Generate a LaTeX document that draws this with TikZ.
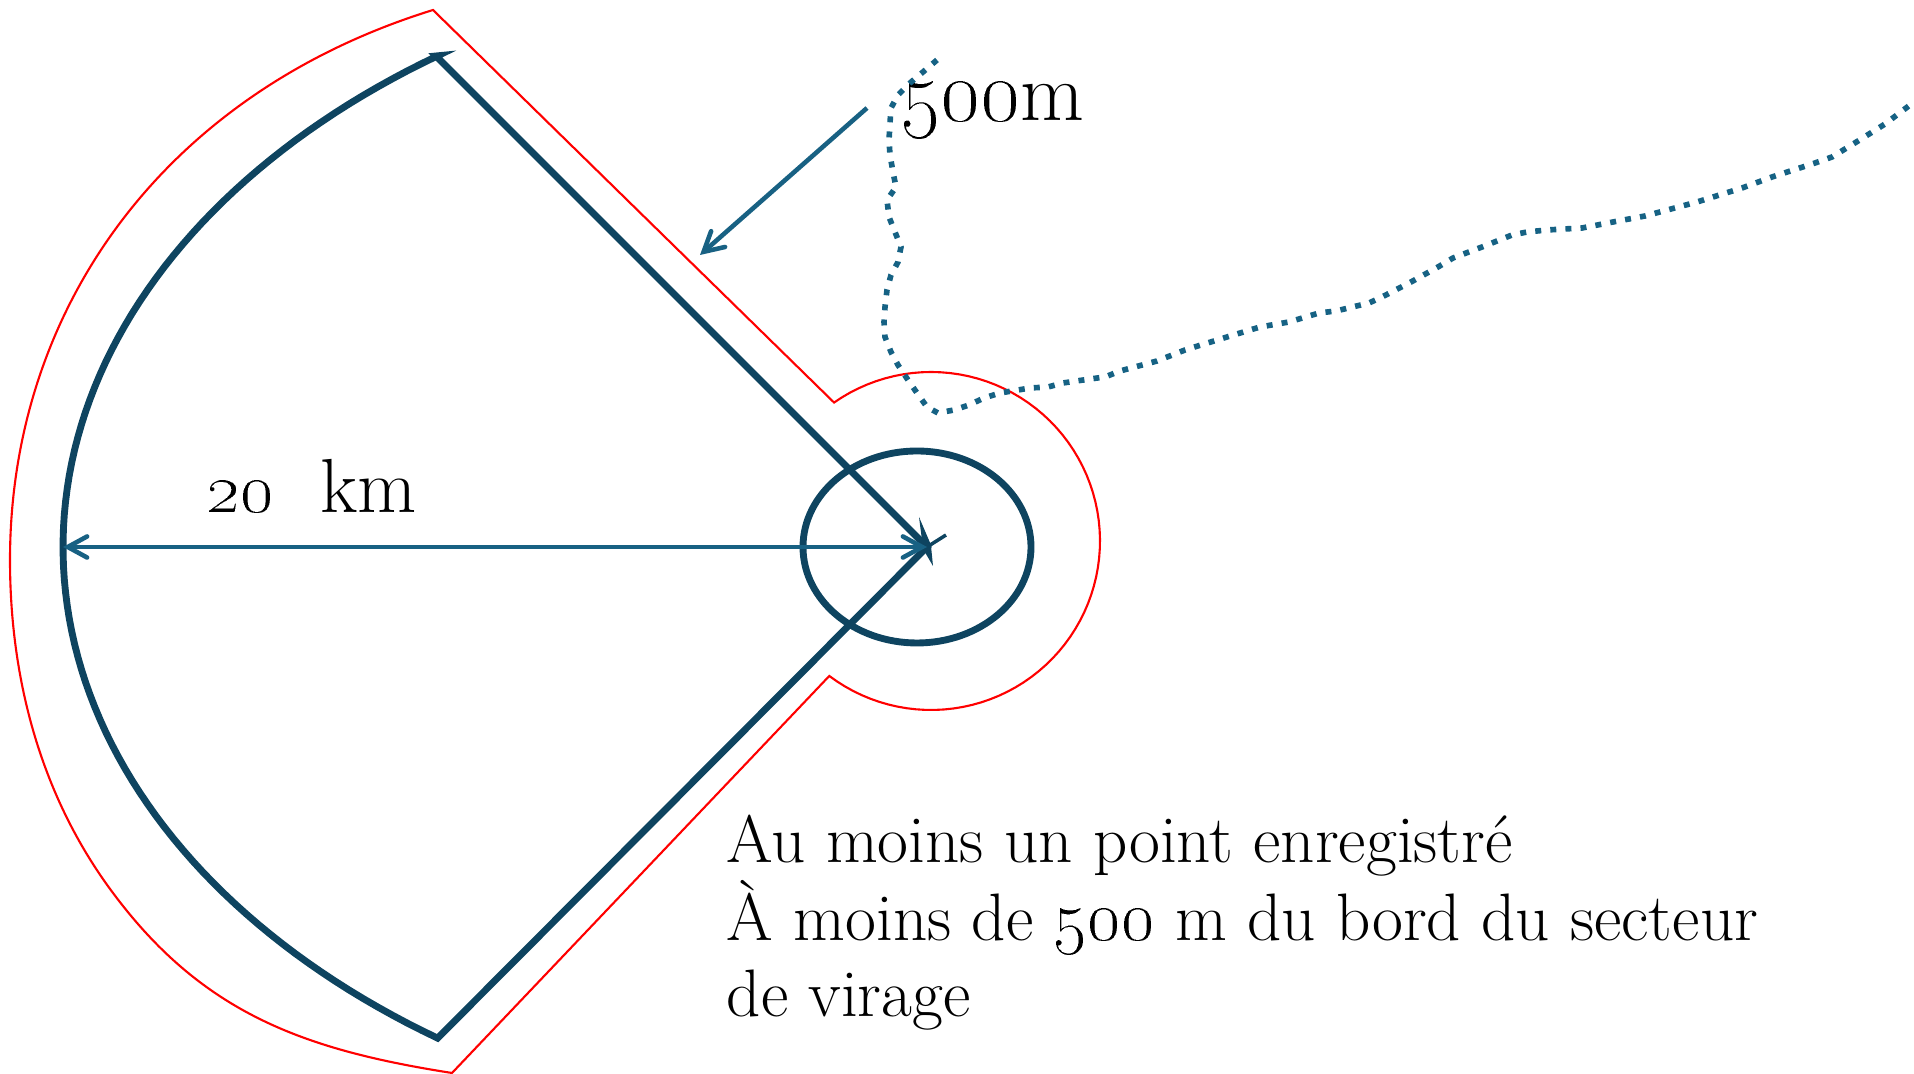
\documentclass[tikz,border=0pt]{standalone}
\usetikzlibrary{arrows.meta}
\definecolor{navy}{RGB}{14,68,96}
\definecolor{arrowblue}{RGB}{24,97,131}
\definecolor{dotblue}{RGB}{22,98,132}
\tikzset{
  sectorline/.style={draw=navy, line width=1.95pt, line join=miter},
  redline/.style={draw=red, line width=0.6pt},
  dimarrow/.style={draw=arrowblue, line width=1.3pt, {Straight Barb[length=5.5pt,width=6pt,line cap=round]}-{Straight Barb[length=5.5pt,width=6pt,line cap=round]}},
  ptrarrow/.style={draw=arrowblue, line width=1.3pt, -{Straight Barb[length=5.5pt,width=6pt,line cap=round]}},
  trackline/.style={draw=dotblue, line width=1.6pt, dash pattern=on 1.7pt off 2.6pt},
  lbl/.style={anchor=base west, inner sep=0pt, text=black}
}
\begin{document}
\begin{tikzpicture}[x=0.01cm,y=-0.01cm]
\useasboundingbox (0,0) rectangle (1914,1074);

% named points
\coordinate (apex) at (927,547);
\coordinate (topc) at (436,56);
\coordinate (arcL) at (63,547);
\coordinate (rtop) at (433,10);
\coordinate (rbot) at (452,1073);
\coordinate (rmid) at (113,893);
\coordinate (rleft) at (10,560);

% red 500 m buffer outline
\draw[redline] (rtop)
  -- plot[domain=235:487, samples=80, variable=\t] ({931+169*cos(\t)}, {541+169*sin(\t)})
  -- (rbot)
  .. controls (303.8,1049.8) and (202.7,1013.3) .. (rmid)
  .. controls (41.2,796.8) and (10,680) .. (rleft)
  .. controls (10,310) and (163,93.7) .. (rtop)
  -- cycle;

% turn sector
\draw[sectorline] (apex) -- (topc)
  -- plot[domain=235.5:124.5, samples=90, variable=\t] ({927+864*cos(\t)}, {547+596*sin(\t)})
  -- cycle;

% cylinder around the turn point
\draw[sectorline] (917,547) ellipse[x radius=114, y radius=96];

% small marks at the apex
\fill[navy] (919,517) -- (931,545) -- (923,548) -- cycle;
\fill[navy] (933,566) -- (923,549) -- (931,546) -- cycle;
\coordinate (stub) at (946,535);
\draw[navy, line width=1pt] (apex) -- (stub);

% 20 km dimension arrow
\draw[dimarrow] (arcL) -- (apex);
\node[lbl, font=\fontsize{21.8}{26}\selectfont] (lab20) at (206,513) {\oldstylenums{20}\ \ km};

% 500 m pointer
\coordinate (p5s) at (867,108);
\coordinate (p5e) at (700,255);
\draw[ptrarrow] (p5s) -- (p5e);
\node[lbl, font=\fontsize{23.5}{28}\selectfont] (lab500) at (900,121) {\oldstylenums{500}m};

% recorded track
\draw[trackline] plot coordinates {
(937,60) (923,72) (910,83) (898,95) (891,108) (890,123) (889,140) (890,155)
(893,172) (896,187) (887,200) (889,217) (895,232) (901,247) (898,262) (891,275)
(887,290) (885,307) (884,322) (885,337) (891,352) (898,365) (908,380) (917,393)
(927,407) (938,413) (954,410) (969,405) (984,398) (1000,393) (1030,388) (1048,387)
(1063,383) (1090,379) (1105,377) (1120,371) (1157,361) (1185,350) (1201,345)
(1227,337) (1260,327) (1289,322) (1319,313) (1336,311) (1369,303) (1382,297)
(1411,282) (1438,267) (1453,258) (1482,247) (1512,235) (1527,232) (1547,230)
(1582,228) (1613,222) (1645,216) (1697,202) (1742,188) (1772,177) (1815,163)
(1832,157) (1858,141) (1885,124) (1914,102) (1930,90)};

% explanation
\node[lbl, font=\fontsize{19.1}{23}\selectfont] (t1) at (726,863) {Au moins un point enregistré};
\node[lbl, font=\fontsize{19.1}{23}\selectfont] (t2) at (726,941) {À moins de \oldstylenums{500} m du bord du secteur};
\node[lbl, font=\fontsize{19.1}{23}\selectfont] (t3) at (726,1017) {de virage};
\end{tikzpicture}
\end{document}
